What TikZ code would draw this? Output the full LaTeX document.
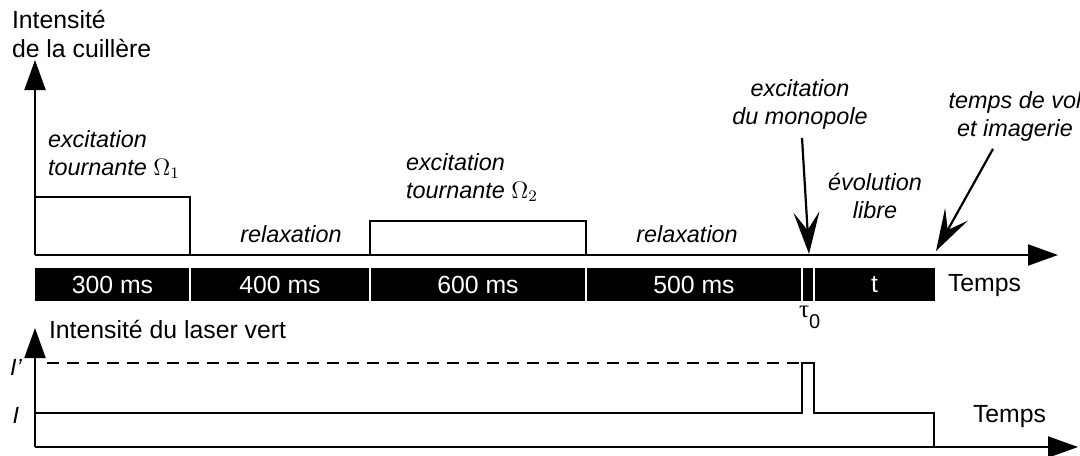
\documentclass[tikz,border=0pt]{standalone}
\usepackage{fontspec}
\setmainfont{Liberation Sans}
\newfontfamily\greekserif{Liberation Serif}
\usetikzlibrary{arrows.meta}
\begin{document}
\begin{tikzpicture}[x=.5pt,y=-.5pt,line width=1pt,
  axis/.style={-{Triangle[length=15pt,width=10.5pt]}},
  pointer/.style={-{Stealth[length=21pt,width=13pt,inset=9pt]},line width=1.1pt},
  lbl/.style={font=\fontsize{11.7}{13.8}\selectfont\itshape,align=center,inner sep=0pt},
  txt/.style={font=\fontsize{12.4}{14.5}\selectfont,align=left,inner sep=0pt},
  seg/.style={txt,text=white}]
 \useasboundingbox (0,0) rectangle (1080,455);
 % upper chart: stirring beam
 \coordinate (o1) at (35,255);
 \draw[axis] (o1) -- (35,60) coordinate (y1);
 \draw[axis] (o1) -- (1058,255) coordinate (x1);
 \draw (o1|-0,197) -- (190,197) -- (190,255);
 \draw (370,255) -- (370,221) -- (586,221) -- (586,255);
 \fill (35,268) rectangle (935,301);
 \foreach \x in {190,370,586,802,814} \draw[white,line width=.7pt] (\x,268) -- (\x,301);
 \foreach \a/\b/\t in {35/190/300 ms,190/370/400 ms,370/586/600 ms,586/802/500 ms,814/935/t}
   \node[seg] (s\a) at ({(\a+\b)/2},284.5) {\t};
 \node[txt,anchor=base west] (ylab1) at (11,57) {Intensité\\de la cuillère};
 \node[txt,anchor=base west] (xlab1) at (947,291) {Temps};
 \node[txt,anchor=base west] (tau) at (798,317)
   {{\greekserif\fontsize{12.5}{12.5}\selectfont τ}\raisebox{-5.5pt}{\fontsize{10}{10}\selectfont 0}};
 \node[lbl,anchor=base west,align=left] (rot1) at (47,175) {excitation\\tournante $\Omega_1$};
 \node[lbl,anchor=base] (rel1) at (291,242) {relaxation};
 \node[lbl,anchor=base west,align=left] (rot2) at (405,198) {excitation\\tournante $\Omega_2$};
 \node[lbl,anchor=base] (rel2) at (687,242) {relaxation};
 \node[lbl,anchor=base] (mono) at (800,124) {excitation\\du monopole};
 \node[lbl,anchor=base] (evol) at (875,218) {évolution\\libre};
 \node[lbl,anchor=base] (tof) at (1015,136) {temps de vol\\et imagerie};
 \coordinate (kick) at (809,254);
 \coordinate (shot) at (936,251);
 \draw[pointer] (mono.south) ++(2,8) -- (kick);
 \draw[pointer] (tof.south) ++(-22,7) -- (shot);
 % lower chart: green laser
 \coordinate (o2) at (35,447);
 \draw[axis] (o2) -- (35,328) coordinate (y2);
 \draw[axis] (o2) -- (1078,447) coordinate (x2);
 \draw[dash pattern=on 6pt off 4pt] (47,363) -- (802,363);
 \draw (o2|-0,413) -- (802,413) -- (802,363) -- (814,363) -- (814,413) -- (934,413) -- (934,447);
 \node[txt,anchor=base west] (ylab2) at (48,338) {Intensité du laser vert};
 \node[txt,anchor=base west] (xlab2) at (972,422) {Temps};
 \node[lbl] (Ihi) at (16,367) {I’};
 \node[lbl] (Ilo) at (16,415) {I};
\end{tikzpicture}
\end{document}
